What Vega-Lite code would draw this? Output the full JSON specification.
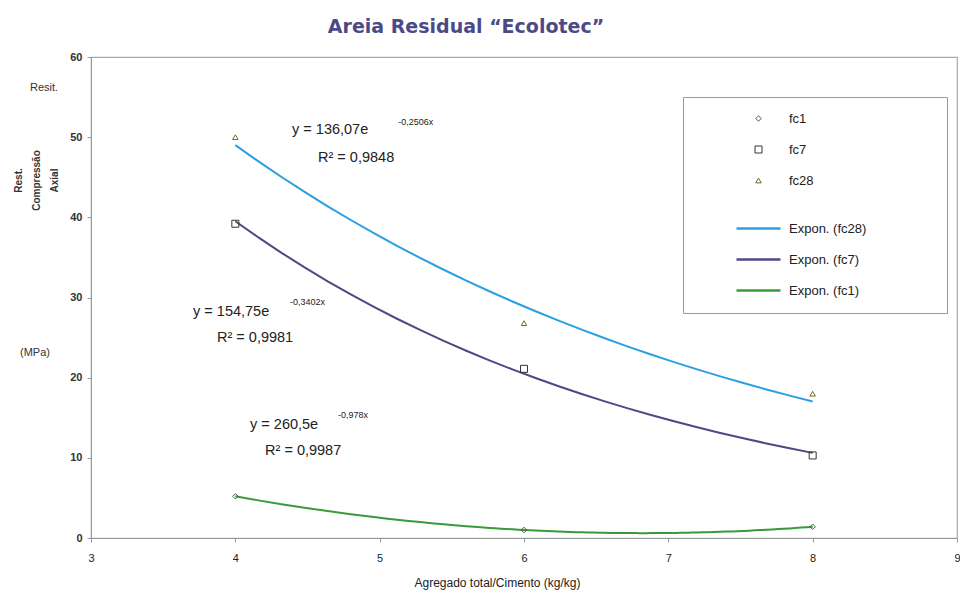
{
  "$schema": "https://vega.github.io/schema/vega-lite/v6.json",
  "width": 866,
  "height": 481,
  "autosize": {"type": "none"},
  "padding": {"left": 91, "top": 57, "right": 3, "bottom": 56},
  "background": "white",
  "config": {
    "font": "Liberation Sans",
    "view": {"stroke": "#aaaaaa", "strokeWidth": 1.2},
    "legend": {
      "orient": "none",
      "legendX": 592,
      "legendY": 40,
      "strokeColor": "#999",
      "fillColor": "white",
      "padding": 15,
      "rowPadding": -1,
      "gridAlign": "all",
      "labelFontSize": 13,
      "labelColor": "#222",
      "symbolOffset": 37,
      "labelOffset": 7,
      "titleOrient": "right",
      "titlePadding": 66,
      "titleFontSize": 13
    }
  },
  "title": {
    "text": "Areia  Residual “Ecolotec”",
    "fontSize": 19,
    "fontWeight": "bold",
    "color": "#4b4a86",
    "font": "DejaVu Sans",
    "anchor": "middle",
    "dx": -58,
    "offset": 14
  },
  "datasets": {
    "pts": [
      {"x": 4, "y": 5.2, "series": "fc1", "trend": "Expon. (fc1)"},
      {"x": 6, "y": 1.0, "series": "fc1", "trend": "Expon. (fc1)"},
      {"x": 8, "y": 1.4, "series": "fc1", "trend": "Expon. (fc1)"},
      {"x": 4, "y": 39.2, "series": "fc7", "trend": "Expon. (fc7)"},
      {"x": 6, "y": 21.1, "series": "fc7", "trend": "Expon. (fc7)"},
      {"x": 8, "y": 10.3, "series": "fc7", "trend": "Expon. (fc7)"},
      {"x": 4, "y": 50.0, "series": "fc28", "trend": "Expon. (fc28)"},
      {"x": 6, "y": 26.8, "series": "fc28", "trend": "Expon. (fc28)"},
      {"x": 8, "y": 18.0, "series": "fc28", "trend": "Expon. (fc28)"}
    ],
    "eq": [
      {"x": 4.393, "y": 50.9, "text": "y = 136,07e"},
      {"x": 4.573, "y": 47.4, "text": "R² = 0,9848"},
      {"x": 3.707, "y": 28.2, "text": "y = 154,75e"},
      {"x": 3.873, "y": 24.9, "text": "R² = 0,9981"},
      {"x": 4.102, "y": 14.1, "text": "y = 260,5e"},
      {"x": 4.206, "y": 10.85, "text": "R² = 0,9987"}
    ],
    "sup": [
      {"x": 5.128, "y": 51.9, "text": "-0,2506x"},
      {"x": 4.379, "y": 29.4, "text": "-0,3402x"},
      {"x": 4.712, "y": 15.3, "text": "-0,978x"}
    ],
    "side": [
      {"x": 2.577, "y": 56.1, "text": "Resit."},
      {"x": 2.508, "y": 23.1, "text": "(MPa)"}
    ]
  },
  "encoding": {
    "x": {
      "field": "x",
      "type": "quantitative",
      "scale": {"domain": [3, 9], "nice": false, "zero": false},
      "axis": {
        "values": [3, 4, 5, 6, 7, 8, 9],
        "grid": false,
        "title": "Agregado total/Cimento (kg/kg)",
        "titleFontSize": 12,
        "titleFontWeight": "normal",
        "titleColor": "#222",
        "titleX": 406,
        "titleY": 39,
        "titleBaseline": "top",
        "domainColor": "#999",
        "tickColor": "#999",
        "tickSize": 4,
        "labelPadding": 10,
        "labelFontSize": 11,
        "labelColor": "#222",
        "labelFlush": false
      }
    },
    "y": {
      "field": "y",
      "type": "quantitative",
      "scale": {"domain": [0, 60], "nice": false},
      "axis": {
        "values": [0, 10, 20, 30, 40, 50, 60],
        "grid": false,
        "title": ["Rest.", "Compressão", "Axial"],
        "titleFontSize": 10,
        "titleFontWeight": "bold",
        "titleColor": "#333",
        "titleAngle": -90,
        "titleX": -78,
        "titleY": 123,
        "titleBaseline": "top",
        "titleAlign": "center",
        "titleLineHeight": 18,
        "domainColor": "#999",
        "tickColor": "#999",
        "tickSize": 4,
        "labelPadding": 5,
        "labelFontSize": 11,
        "labelFontWeight": "bold",
        "labelColor": "#333"
      }
    }
  },
  "layer": [
    {
      "data": {"name": "pts"},
      "transform": [
        {"filter": "datum.series != 'fc1'"},
        {"regression": "y", "on": "x", "groupby": ["trend"], "method": "exp", "extent": [4, 8]}
      ],
      "mark": {"type": "line", "strokeWidth": 2},
      "encoding": {
        "color": {
          "field": "trend",
          "type": "nominal",
          "scale": {
            "domain": ["fc1", "fc7", "fc28", "Expon. (fc28)", "Expon. (fc7)", "Expon. (fc1)"],
            "range": ["#555555", "#333333", "#6b6b2a", "#2aa0e0", "#4b4a86", "#3a9a3a"]
          },
          "legend": {"title": " "}
        }
      }
    },
    {
      "data": {"name": "pts"},
      "transform": [
        {"filter": "datum.series == 'fc1'"},
        {"regression": "y", "on": "x", "groupby": ["trend"], "method": "poly", "order": 2, "extent": [4, 8]}
      ],
      "mark": {"type": "line", "strokeWidth": 2},
      "encoding": {
        "color": {"field": "trend", "type": "nominal"}
      }
    },
    {
      "data": {"name": "pts"},
      "mark": {"type": "point", "filled": false, "opacity": 1},
      "encoding": {
        "color": {"field": "series", "type": "nominal"},
        "shape": {
          "field": "series",
          "type": "nominal",
          "scale": {
            "domain": ["fc1", "fc7", "fc28", "Expon. (fc28)", "Expon. (fc7)", "Expon. (fc1)"],
            "range": ["diamond", "square", "triangle-up", "stroke", "stroke", "stroke"]
          },
          "legend": {"title": " "}
        },
        "size": {
          "field": "series",
          "type": "nominal",
          "scale": {
            "type": "ordinal",
            "domain": ["fc1", "fc7", "fc28", "Expon. (fc28)", "Expon. (fc7)", "Expon. (fc1)"],
            "range": [30, 49, 30, 1936, 1936, 1936]
          },
          "legend": {"title": " "}
        },
        "strokeWidth": {
          "field": "series",
          "type": "nominal",
          "scale": {
            "type": "ordinal",
            "domain": ["fc1", "fc7", "fc28", "Expon. (fc28)", "Expon. (fc7)", "Expon. (fc1)"],
            "range": [1, 1, 1, 2.5, 2.5, 2.5]
          },
          "legend": {"title": " "}
        }
      }
    },
    {
      "data": {"name": "eq"},
      "mark": {"type": "text", "align": "left", "baseline": "middle", "fontSize": 14.5, "color": "#222"},
      "encoding": {"text": {"field": "text"}}
    },
    {
      "data": {"name": "sup"},
      "mark": {"type": "text", "align": "left", "baseline": "middle", "fontSize": 9, "color": "#222"},
      "encoding": {"text": {"field": "text"}}
    },
    {
      "data": {"name": "side"},
      "mark": {"type": "text", "align": "left", "baseline": "middle", "fontSize": 11, "color": "#333"},
      "encoding": {"text": {"field": "text"}}
    }
  ]
}
